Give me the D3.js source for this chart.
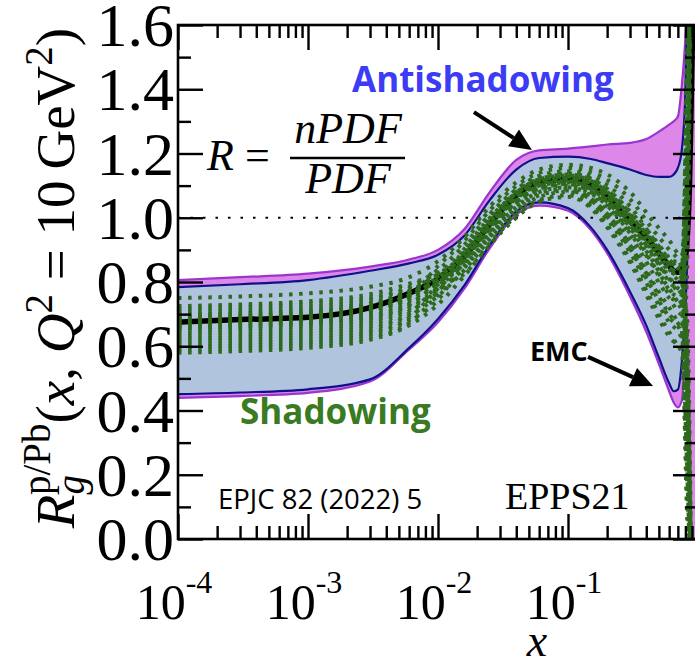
<!DOCTYPE html>
<html><head><meta charset="utf-8">
<script src="https://cdn.jsdelivr.net/npm/d3@7"></script>
<style>html,body{margin:0;padding:0;background:#fff;} svg{display:block;}</style>
</head><body><svg id="c" width="695" height="669"></svg>
<script>
// ---------------- data ----------------
const bandX = [1e-4, 3e-4, 1e-3, 3e-3, 0.006, 0.01, 0.016, 0.025, 0.04, 0.06, 0.1, 0.15, 0.2, 0.3, 0.4, 0.5, 0.6, 0.65, 0.7, 0.75, 0.8, 0.83, 0.86, 0.9, 1.0];
const purpleUpper = [0.806,0.815,0.826,0.848,0.870,0.900,0.965,1.080,1.180,1.210,1.215,1.222,1.228,1.233,1.245,1.268,1.290,1.300,1.315,1.410,1.560,1.700,2.000,2.000,2.000];
const purpleLower = [0.439,0.445,0.455,0.490,0.590,0.675,0.780,0.905,1.010,1.038,1.022,0.962,0.890,0.755,0.645,0.545,0.460,0.425,0.410,0.430,0.540,0.500,0.000,-0.500,-0.500];
const blueUpper   = [0.784,0.793,0.806,0.835,0.858,0.885,0.945,1.055,1.150,1.186,1.190,1.183,1.170,1.150,1.133,1.127,1.127,1.135,1.155,1.210,1.390,1.700,2.000,2.000,2.000];
const blueLower   = [0.451,0.456,0.466,0.497,0.595,0.685,0.790,0.915,1.020,1.048,1.030,0.970,0.900,0.770,0.665,0.565,0.485,0.460,0.465,0.550,0.720,0.900,1.250,2.000,2.000];
const central     = [0.675,0.683,0.690,0.720,0.765,0.810,0.880,0.980,1.070,1.110,1.120,1.100,1.065,0.990,0.940,0.890,0.850,0.835,0.830,0.840,0.880,0.950,1.100,1.500,2.000];

const greenX = [1e-4, 3e-4, 1e-3, 3e-3, 0.006, 0.01, 0.016, 0.025, 0.04, 0.06, 0.1, 0.15, 0.2, 0.3, 0.45, 0.6, 0.75, 0.82, 0.9];
const green1  = [0.750,0.755,0.765,0.785,0.815,0.865,0.940,1.035,1.110,1.150,1.165,1.155,1.135,1.080,0.990,0.930,0.880,1.30,2.2];
const green2  = [0.716,0.721,0.731,0.752,0.785,0.838,0.916,1.011,1.088,1.130,1.145,1.130,1.102,1.036,0.936,0.870,0.820,0.60,-0.3];
const green3  = [0.699,0.704,0.714,0.736,0.770,0.825,0.880,0.975,1.055,1.100,1.115,1.090,1.050,0.970,0.855,0.780,0.730,1.10,2.2];
const green4  = [0.682,0.687,0.697,0.719,0.755,0.850,0.928,1.023,1.099,1.140,1.155,1.142,1.118,1.058,0.963,0.900,0.850,0.40,-0.3];
const green5  = [0.665,0.670,0.680,0.703,0.740,0.800,0.856,0.951,1.033,1.080,1.095,1.068,1.020,0.926,0.800,0.720,0.670,1.40,2.2];
const green6  = [0.648,0.653,0.663,0.686,0.725,0.784,0.904,0.999,1.077,1.120,1.135,1.118,1.086,1.014,0.909,0.840,0.790,0.50,-0.3];
const green7  = [0.631,0.636,0.646,0.670,0.710,0.770,0.892,0.987,1.066,1.110,1.125,1.105,1.070,0.990,0.880,0.810,0.760,1.20,2.2];
const green8  = [0.614,0.619,0.629,0.653,0.695,0.757,0.838,0.933,1.017,1.065,1.080,1.049,0.995,0.893,0.760,0.675,0.625,0.30,-0.3];
const green9  = [0.597,0.602,0.612,0.637,0.680,0.744,0.868,0.963,1.044,1.090,1.105,1.080,1.036,0.948,0.828,0.750,0.700,1.50,2.2];
const green10 = [0.580,0.585,0.595,0.620,0.665,0.730,0.820,0.915,1.000,1.050,1.065,1.030,0.970,0.860,0.720,0.630,0.580,0.20,-0.3];
const green11 = [0.657,0.662,0.672,0.694,0.732,0.790,0.826,0.921,1.006,1.055,1.070,1.036,0.978,0.870,0.735,0.645,0.595,0.80,2.2];
const green12 = [0.640,0.645,0.655,0.678,0.718,0.775,0.845,0.940,1.022,1.070,1.085,1.055,1.003,0.904,0.774,0.690,0.640,0.10,-0.3];
const green13 = [0.707,0.712,0.722,0.745,0.780,0.818,0.885,0.985,1.075,1.115,1.128,1.108,1.075,1.000,0.915,0.840,0.800,0.90,2.2];
const green14 = [0.690,0.695,0.705,0.728,0.762,0.805,0.872,0.970,1.062,1.103,1.112,1.092,1.055,0.978,0.885,0.800,0.760,0.70,-0.3];
const green15 = [0.673,0.678,0.688,0.711,0.748,0.812,0.893,0.992,1.080,1.120,1.132,1.115,1.080,1.008,0.925,0.855,0.815,1.00,2.2];
const green16 = [0.656,0.660,0.670,0.692,0.730,0.798,0.866,0.962,1.052,1.095,1.106,1.082,1.045,0.962,0.865,0.775,0.730,0.55,-0.3];
const green17 = [0.623,0.628,0.638,0.662,0.702,0.792,0.878,0.978,1.068,1.108,1.118,1.098,1.062,0.985,0.895,0.815,0.775,1.25,2.2];
const green18 = [0.605,0.610,0.620,0.645,0.688,0.780,0.862,0.958,1.048,1.090,1.100,1.076,1.038,0.952,0.850,0.760,0.712,0.35,-0.3];
const green19 = [0.725,0.730,0.740,0.762,0.795,0.828,0.898,0.998,1.085,1.125,1.138,1.122,1.090,1.020,0.940,0.875,0.835,1.35,2.2];
const green20 = [0.589,0.594,0.604,0.628,0.672,0.760,0.850,0.945,1.030,1.078,1.090,1.060,1.012,0.915,0.790,0.700,0.650,0.25,-0.3];
const green21 = [0.668,0.676,0.684,0.714,0.760,0.806,0.876,0.977,1.066,1.106,1.117,1.097,1.062,0.986,0.905,0.845,0.830,1.05,2.2];
const green22 = [0.661,0.669,0.677,0.707,0.752,0.815,0.884,0.984,1.073,1.113,1.124,1.105,1.070,0.996,0.925,0.858,0.850,0.65,-0.3];
const green23 = [0.694,0.700,0.708,0.732,0.772,0.820,0.890,0.990,1.078,1.118,1.130,1.111,1.078,1.004,0.935,0.870,0.862,1.15,2.2];
const green24 = [0.686,0.691,0.700,0.725,0.768,0.802,0.870,0.972,1.060,1.100,1.110,1.090,1.054,0.976,0.898,0.835,0.820,0.45,-0.3];
const greenSets = [green1,green2,green3,green4,green5,green6,green7,green8,green9,green10,green11,green12,
                   green13,green14,green15,green16,green17,green18,green19,green20,green21,green22,green23,green24];

const xMajorTicks = [1e-4, 1e-3, 1e-2, 1e-1];
const xTickExponents = ["-4", "-3", "-2", "-1"];
const yTicks = [0, 0.2, 0.4, 0.6, 0.8, 1.0, 1.2, 1.4, 1.6];
const yTickLabels = ["0.0", "0.2", "0.4", "0.6", "0.8", "1.0", "1.2", "1.4", "1.6"];

// annotation anchor points in data coordinates [x, R]
const antiArrow = [[0.0189, 1.329], [0.0528, 1.211]];
const emcArrow  = [[0.1426, 0.567], [0.451, 0.476]];

// ---------------- chart ----------------
const svg = d3.select("#c");
const L = 178, T = 25, R = 698, B = 539;
const xs = d3.scaleLog().domain([1e-4, 1]).range([L, R]);
const ys = d3.scaleLinear().domain([0, 1.6]).range([B, T]);

svg.append("rect").attr("width", 695).attr("height", 669).attr("fill", "#fff");
svg.append("defs").append("clipPath").attr("id", "clip")
  .append("rect").attr("x", L).attr("y", T).attr("width", R - L).attr("height", B - T);
const plot = svg.append("g").attr("clip-path", "url(#clip)");

const zipB = (lo, hi) => bandX.map((x, i) => ({x, lo: lo[i], hi: hi[i]}));
const area = d3.area().x(d => xs(d.x)).y0(d => ys(d.lo)).y1(d => ys(d.hi)).curve(d3.curveMonotoneX);
const line = d3.line().x(d => xs(d[0])).y(d => ys(d[1])).curve(d3.curveMonotoneX);

// purple (full) band
plot.append("path").datum(zipB(purpleLower, purpleUpper)).attr("d", area).attr("fill", "#dd88e8");
[purpleUpper, purpleLower].forEach(arr => {
  plot.append("path").datum(bandX.map((x, i) => [x, arr[i]])).attr("d", line)
    .attr("fill", "none").attr("stroke", "#9b35d0").attr("stroke-width", 2.2);
});
// blue band
plot.append("path").datum(zipB(blueLower, blueUpper)).attr("d", area).attr("fill", "#b0c4de");
[blueUpper, blueLower].forEach(arr => {
  plot.append("path").datum(bandX.map((x, i) => [x, arr[i]])).attr("d", line)
    .attr("fill", "none").attr("stroke", "#10108a").attr("stroke-width", 2.2);
});
// central
plot.append("path").datum(bandX.map((x, i) => [x, central[i]])).attr("d", line)
  .attr("fill", "none").attr("stroke", "#000").attr("stroke-width", 5.5);
// reference line R=1
plot.append("line").attr("x1", L).attr("x2", R).attr("y1", ys(1)).attr("y2", ys(1))
  .attr("stroke", "#000").attr("stroke-width", 2.2).attr("stroke-dasharray", "2.5,10");
// green error sets
greenSets.forEach(arr => {
  plot.append("path").datum(greenX.map((x, i) => [x, arr[i]])).attr("d", line)
    .attr("fill", "none").attr("stroke", "#2e6a1c").attr("stroke-width", 4)
    .attr("stroke-dasharray", "3.5,6.6");
});

// ---------------- axes ----------------
const minorX = xs.ticks().filter(v => !xMajorTicks.includes(v) && v < 1);
function axisG(gen, tx, ty) {
  const g = svg.append("g").attr("transform", `translate(${tx},${ty})`).call(gen);
  g.select(".domain").remove();
  g.selectAll(".tick line").attr("stroke", "#000").attr("stroke-width", 2.4);
  g.selectAll(".tick text").remove();
  return g;
}
axisG(d3.axisBottom(xs).tickValues(xMajorTicks).tickSize(-25), 0, B);
axisG(d3.axisBottom(xs).tickValues(minorX).tickSize(-13), 0, B);
axisG(d3.axisTop(xs).tickValues(xMajorTicks).tickSize(-25), 0, T);
axisG(d3.axisTop(xs).tickValues(minorX).tickSize(-13), 0, T);
const yMinor = ys.ticks(16).filter(v => Math.round(v * 10) % 2 === 1);
axisG(d3.axisLeft(ys).tickValues(yTicks).tickSize(-25), L, 0);
axisG(d3.axisLeft(ys).tickValues(yMinor).tickSize(-13), L, 0);
axisG(d3.axisRight(ys).tickValues(yTicks).tickSize(-25), R, 0);
axisG(d3.axisRight(ys).tickValues(yMinor).tickSize(-13), R, 0);

svg.append("rect").attr("x", L).attr("y", T).attr("width", R - L).attr("height", B - T)
  .attr("fill", "none").attr("stroke", "#000").attr("stroke-width", 2.6);

const serif = "'Liberation Serif', 'Times New Roman', serif";
const sans = "'Open Sans', 'Noto Sans', sans-serif";

// y tick labels
svg.append("g").selectAll("text").data(yTicks).join("text")
  .attr("x", 174).attr("y", d => ys(d) + 21)
  .attr("text-anchor", "end").attr("font-family", serif).attr("font-size", 62)
  .text((d, i) => yTickLabels[i]);

// x tick labels
xMajorTicks.forEach((v, i) => {
  const t = svg.append("text").attr("x", xs(v) - 4).attr("y", 619)
    .attr("text-anchor", "middle").attr("font-family", serif).attr("font-size", 50);
  t.append("tspan").text("10");
  t.append("tspan").attr("font-size", 32).attr("dy", -26).text(xTickExponents[i]);
});

// x axis title
svg.append("text").attr("x", 537).attr("y", 656).attr("text-anchor", "middle")
  .attr("font-family", serif).attr("font-style", "italic").attr("font-size", 46).text("x");

// y axis title
const yt = svg.append("text").attr("transform", "translate(74,278) rotate(-90)")
  .attr("text-anchor", "middle").attr("font-family", serif).attr("font-size", 55);
yt.append("tspan").attr("font-style", "italic").text("R");
yt.append("tspan").attr("font-style", "italic").attr("font-size", 39).attr("dy", 10).text("g");
yt.append("tspan").attr("font-size", 39).attr("dx", -20).attr("dy", -34).text("p/Pb");
yt.append("tspan").attr("dy", 24).text("(");
yt.append("tspan").attr("font-style", "italic").text("x");
yt.append("tspan").text(", ");
yt.append("tspan").attr("font-style", "italic").text("Q");
yt.append("tspan").attr("font-size", 39).attr("dy", -22).text("2");
yt.append("tspan").attr("dy", 22).text(" = 10\u2009GeV");
yt.append("tspan").attr("font-size", 39).attr("dy", -22).text("2");
yt.append("tspan").attr("dy", 22).text(")");

// formula R = nPDF / PDF
svg.append("text").attr("x", 207).attr("y", 170).attr("font-family", serif).attr("font-size", 44)
  .call(t => { t.append("tspan").attr("font-style", "italic").text("R"); t.append("tspan").text(" = "); });
svg.append("line").attr("x1", 290).attr("x2", 405).attr("y1", 158).attr("y2", 158)
  .attr("stroke", "#000").attr("stroke-width", 2.4);
svg.append("text").attr("x", 348).attr("y", 143).attr("text-anchor", "middle").attr("font-family", serif)
  .attr("font-style", "italic").attr("font-size", 44).text("nPDF");
svg.append("text").attr("x", 348).attr("y", 193).attr("text-anchor", "middle").attr("font-family", serif)
  .attr("font-style", "italic").attr("font-size", 44).text("PDF");

// labels
svg.append("text").attr("x", 352).attr("y", 92).attr("font-family", sans).attr("font-weight", 700)
  .attr("font-size", 35).attr("fill", "#3c3cf5").text("Antishadowing");
svg.append("text").attr("x", 240).attr("y", 424).attr("font-family", sans).attr("font-weight", 700)
  .attr("font-size", 35).attr("fill", "#3a7a22").text("Shadowing");
svg.append("text").attr("x", 530).attr("y", 361).attr("font-family", sans).attr("font-weight", 700)
  .attr("font-size", 27).attr("fill", "#000").text("EMC");
svg.append("text").attr("x", 218).attr("y", 509).attr("font-family", sans)
  .attr("font-size", 27.5).attr("fill", "#000").text("EPJC 82 (2022) 5");
svg.append("text").attr("x", 505).attr("y", 509).attr("font-family", serif)
  .attr("font-size", 38).attr("fill", "#000").text("EPPS21");

// arrows
function arrow(pts) {
  const [x0, y0] = [xs(pts[0][0]), ys(pts[0][1])];
  const [x1, y1] = [xs(pts[1][0]), ys(pts[1][1])];
  const ang = Math.atan2(y1 - y0, x1 - x0);
  const hl = 22, hw = 10;
  const bx = x1 - hl * Math.cos(ang), by = y1 - hl * Math.sin(ang);
  svg.append("line").attr("x1", x0).attr("y1", y0).attr("x2", bx).attr("y2", by)
    .attr("stroke", "#000").attr("stroke-width", 4);
  const px = -Math.sin(ang) * hw, py = Math.cos(ang) * hw;
  svg.append("path").attr("d", `M${x1},${y1}L${bx + px},${by + py}L${bx - px},${by - py}Z`).attr("fill", "#000");
}
arrow(antiArrow);
arrow(emcArrow);
</script></body></html>
